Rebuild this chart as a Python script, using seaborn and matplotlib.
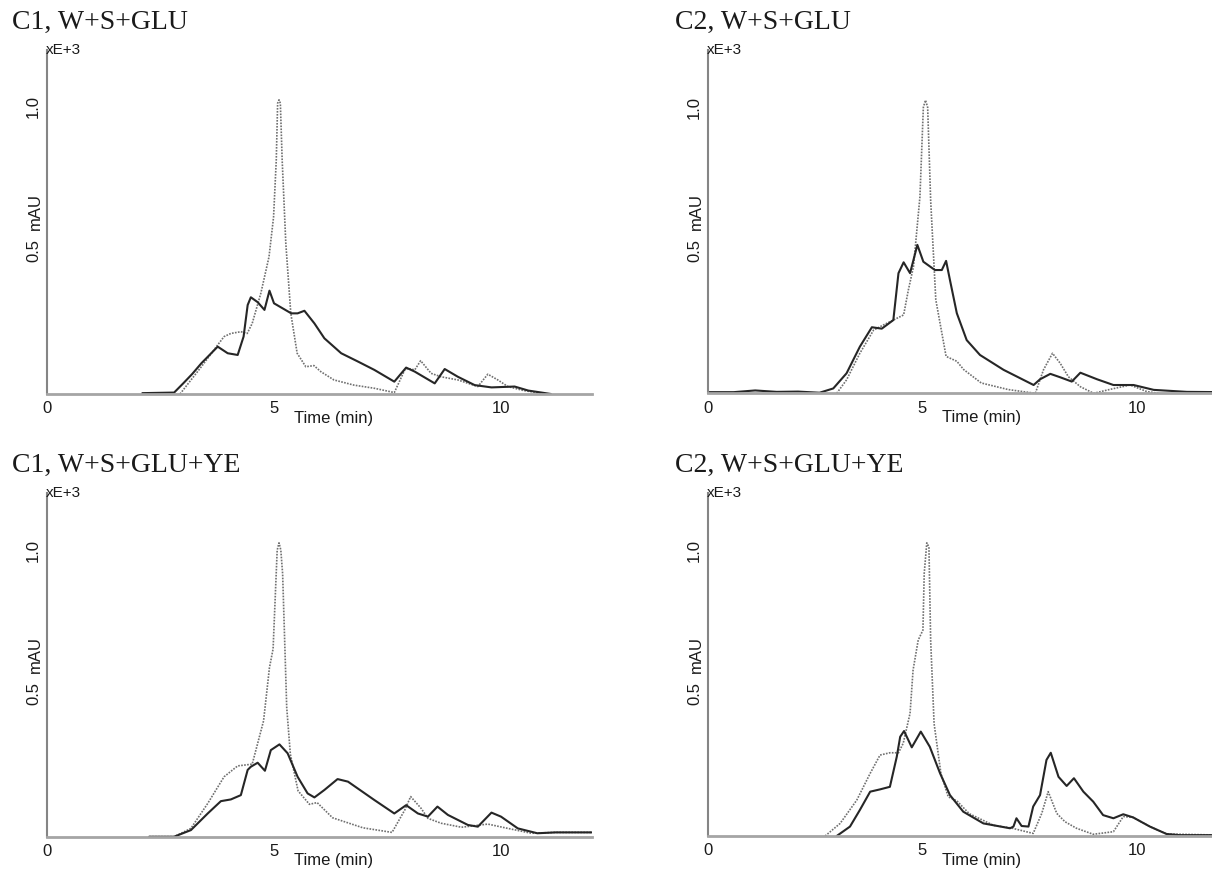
#%% Chromatograms C1 / C2, W+S+GLU with and without YE
import pandas as pd
import seaborn as sns
import matplotlib.pyplot as plt
from matplotlib.ticker import MultipleLocator

#%% Data (time in min, signal in mAU x 1000)

# C1, W+S+GLU
c1_glu_solid_t = [2.1, 2.8, 3.0, 3.2, 3.4, 3.76, 3.98, 4.2, 4.33, 4.42, 4.49, 4.64, 4.79, 4.9, 5.0,
                  5.38, 5.52, 5.67, 5.89, 6.11, 6.48, 6.85, 7.21, 7.65, 7.91, 8.1, 8.54, 8.76, 9.05,
                  9.42, 9.79, 10.3, 10.6, 11.1]
c1_glu_solid_v = [0.003, 0.005, 0.037, 0.07, 0.107, 0.165, 0.142, 0.136, 0.2, 0.31, 0.337, 0.32,
                  0.293, 0.36, 0.316, 0.281, 0.281, 0.29, 0.246, 0.194, 0.142, 0.113, 0.084, 0.043,
                  0.092, 0.078, 0.037, 0.087, 0.06, 0.031, 0.023, 0.026, 0.012, 0.0]
c1_glu_dot_t = [2.93, 3.4, 3.76, 3.9, 4.05, 4.27, 4.41, 4.52, 4.71, 4.89, 4.99, 5.05, 5.08, 5.11,
                5.14, 5.18, 5.26, 5.37, 5.51, 5.7, 5.88, 6.03, 6.32, 6.76, 7.21, 7.65, 7.88, 7.95,
                8.1, 8.23, 8.46, 8.68, 9.05, 9.49, 9.71, 9.93, 10.15, 10.5, 11.0]
c1_glu_dot_v = [0.0, 0.095, 0.171, 0.2, 0.211, 0.217, 0.211, 0.246, 0.351, 0.478, 0.616, 0.815,
                1.013, 1.025, 1.013, 0.815, 0.525, 0.281, 0.142, 0.095, 0.099, 0.078, 0.049, 0.031,
                0.02, 0.005, 0.084, 0.089, 0.084, 0.116, 0.072, 0.06, 0.049, 0.026, 0.069, 0.049,
                0.026, 0.012, 0.0]

# C2, W+S+GLU
c2_glu_solid_t = [0.0, 0.6, 1.1, 1.6, 2.1, 2.6, 2.92, 3.23, 3.54, 3.82, 4.05, 4.32, 4.44, 4.56,
                  4.71, 4.88, 5.02, 5.29, 5.45, 5.55, 5.64, 5.8, 6.03, 6.34, 6.89, 7.59, 7.74, 7.98,
                  8.21, 8.48, 8.68, 9.07, 9.45, 9.92, 10.39, 11.16, 12.0]
c2_glu_solid_v = [0.004, 0.004, 0.01, 0.005, 0.006, 0.002, 0.017, 0.07, 0.163, 0.231, 0.226,
                  0.256, 0.42, 0.458, 0.42, 0.519, 0.46, 0.431, 0.431, 0.463, 0.396, 0.28, 0.186,
                  0.134, 0.082, 0.029, 0.049, 0.068, 0.056, 0.041, 0.072, 0.049, 0.029, 0.029,
                  0.012, 0.005, 0.004]
c2_glu_dot_t = [3.0, 3.23, 3.54, 3.86, 4.09, 4.32, 4.56, 4.67, 4.79, 4.94, 5.02, 5.07, 5.12, 5.19,
                5.31, 5.55, 5.8, 5.96, 6.37, 7.0, 7.63, 7.82, 8.03, 8.21, 8.4, 8.68, 8.99, 9.38,
                9.84, 10.23, 10.5]
c2_glu_dot_v = [0.0, 0.047, 0.14, 0.221, 0.239, 0.256, 0.274, 0.361, 0.443, 0.687, 1.0, 1.025,
                1.0, 0.675, 0.327, 0.129, 0.112, 0.083, 0.036, 0.013, 0.0, 0.082, 0.14, 0.105,
                0.058, 0.023, 0.0, 0.014, 0.029, 0.006, 0.0]

# C1, W+S+GLU+YE
c1_ye_solid_t = [2.25, 2.8, 3.17, 3.54, 3.83, 4.05, 4.27, 4.42, 4.49, 4.64, 4.8, 4.93, 5.12, 5.3,
                 5.52, 5.74, 5.89, 6.11, 6.4, 6.63, 7.21, 7.65, 7.91, 8.17, 8.39, 8.6, 8.83, 9.27,
                 9.49, 9.79, 10.0, 10.37, 10.8, 11.2, 12.0]
c1_ye_solid_v = [0.0, 0.0, 0.023, 0.081, 0.124, 0.13, 0.145, 0.233, 0.244, 0.258, 0.23, 0.302,
                 0.322, 0.291, 0.209, 0.151, 0.137, 0.163, 0.201, 0.192, 0.128, 0.081, 0.11, 0.081,
                 0.07, 0.105, 0.076, 0.041, 0.035, 0.084, 0.07, 0.029, 0.012, 0.015, 0.015]
c1_ye_dot_t = [2.25, 2.8, 3.17, 3.54, 3.9, 4.2, 4.52, 4.77, 4.9, 4.98, 5.07, 5.11, 5.15, 5.19,
               5.28, 5.36, 5.53, 5.78, 5.95, 6.29, 6.96, 7.6, 7.88, 8.01, 8.24, 8.39, 8.68, 9.13,
               9.71, 10.15, 10.67, 11.2, 12.0]
c1_ye_dot_v = [0.0, 0.0, 0.029, 0.116, 0.209, 0.247, 0.253, 0.404, 0.59, 0.655, 0.999, 1.025,
               1.0, 0.917, 0.451, 0.288, 0.16, 0.113, 0.119, 0.066, 0.031, 0.015, 0.093, 0.14,
               0.099, 0.064, 0.047, 0.033, 0.044, 0.029, 0.012, 0.015, 0.015]

# C2, W+S+GLU+YE
c2_ye_solid_t = [3.0, 3.31, 3.54, 3.78, 4.01, 4.24, 4.4, 4.48, 4.57, 4.75, 4.96, 5.17, 5.41, 5.64,
                 5.95, 6.42, 7.04, 7.12, 7.19, 7.31, 7.47, 7.58, 7.74, 7.89, 7.99, 8.17, 8.36,
                 8.53, 8.75, 8.98, 9.21, 9.45, 9.68, 9.91, 10.3, 10.69, 11.0, 12.0]
c2_ye_solid_v = [0.0, 0.033, 0.091, 0.155, 0.163, 0.172, 0.277, 0.347, 0.367, 0.31, 0.365, 0.312,
                 0.219, 0.143, 0.085, 0.044, 0.027, 0.033, 0.062, 0.035, 0.033, 0.103, 0.143,
                 0.266, 0.291, 0.207, 0.175, 0.202, 0.155, 0.12, 0.073, 0.062, 0.076, 0.065,
                 0.033, 0.007, 0.003, 0.003]
c2_ye_dot_t = [2.73, 3.08, 3.47, 3.78, 4.01, 4.24, 4.44, 4.55, 4.71, 4.78, 4.9, 5.01, 5.04, 5.1,
               5.15, 5.19, 5.27, 5.43, 5.6, 5.8, 6.09, 6.66, 7.07, 7.58, 7.78, 7.93, 8.13, 8.32,
               8.59, 8.98, 9.45, 9.68, 9.91, 10.3, 10.69, 12.0]
c2_ye_dot_v = [0.0, 0.044, 0.126, 0.219, 0.283, 0.291, 0.291, 0.324, 0.429, 0.58, 0.685, 0.72,
               0.918, 1.025, 1.01, 0.685, 0.393, 0.218, 0.137, 0.123, 0.078, 0.037, 0.028, 0.009,
               0.079, 0.155, 0.079, 0.05, 0.027, 0.006, 0.015, 0.068, 0.065, 0.033, 0.007, 0.003]

titles = ['C1, W+S+GLU', 'C2, W+S+GLU', 'C1, W+S+GLU+YE', 'C2, W+S+GLU+YE']

#%% Style
sns.set_style('white')
plt.rcParams['font.family'] = ['Liberation Sans', 'DejaVu Sans']

fig = plt.figure(figsize=(12.12, 8.71), dpi=100)

W, H = 1212, 871
# axes rectangles in pixels: left, baseline, px per min, px per 1.0
rects = [(47, 394, 45.4, 287), (708, 393.3, 42.9, 286),
         (47, 836.7, 45.4, 286.7), (708, 836, 42.9, 286)]
title_pos = [(12, 22), (675, 22), (12, 465), (675, 465)]

panels = [
    (c1_glu_solid_t, c1_glu_solid_v, c1_glu_dot_t, c1_glu_dot_v),
    (c2_glu_solid_t, c2_glu_solid_v, c2_glu_dot_t, c2_glu_dot_v),
    (c1_ye_solid_t, c1_ye_solid_v, c1_ye_dot_t, c1_ye_dot_v),
    (c2_ye_solid_t, c2_ye_solid_v, c2_ye_dot_t, c2_ye_dot_v),
]

for i, (st, sv, dt, dv) in enumerate(panels):
    left, base, pxmin, pxunit = rects[i]
    ax = fig.add_axes([left / W, (H - base) / H, 12 * pxmin / W, 1.2 * pxunit / H])

    dots = pd.DataFrame({'t': dt, 'v': dv})
    solid = pd.DataFrame({'t': st, 'v': sv})
    sns.lineplot(data=dots, x='t', y='v', ax=ax, estimator=None, sort=False,
                 color='#707070', lw=1.2, linestyle=(0, (1, 0.8)))
    sns.lineplot(data=solid, x='t', y='v', ax=ax, estimator=None, sort=False,
                 color='#262626', lw=1.5)

    ax.set_xlim(0, 12)
    ax.set_ylim(0, 1.2)
    ax.set_xlabel('')
    ax.set_ylabel('')
    sns.despine(ax=ax)
    ax.spines['left'].set_color('#858585')
    ax.spines['left'].set_linewidth(1.5)
    ax.spines['bottom'].set_color('#a5a5a5')
    ax.spines['bottom'].set_linewidth(2)

    ax.set_xticks([0, 5, 10])
    ax.set_xticklabels(['0', '5', '10'])
    ax.xaxis.set_minor_locator(MultipleLocator(1))
    ax.set_yticks([0.5, 1.0])
    ax.set_yticklabels(['0.5', '1.0'], rotation=90, va='center')
    ax.yaxis.set_minor_locator(MultipleLocator(0.1))
    ax.tick_params(which='both', direction='inout', length=2.5, width=1, color='#3344ee',
                   labelsize=12, labelcolor='#1a1a1a')
    ax.tick_params(axis='x', which='major', pad=4)
    ax.tick_params(axis='y', which='major', pad=3)

    ax.text(-0.002, 1.0, 'xE+3', transform=ax.transAxes, ha='left', va='center',
            fontsize=11, color='#1a1a1a')
    ax.text(-0.022, 0.53, 'mAU', transform=ax.transAxes, rotation=90, ha='center',
            va='center', fontsize=12, color='#1a1a1a')
    ax.text(5.45, -0.07, 'Time (min)', transform=ax.get_xaxis_transform(), ha='left',
            va='center', fontsize=12, color='#1a1a1a')

    tx, ty = title_pos[i]
    fig.text(tx / W, 1 - ty / H, titles[i], family=['Liberation Serif', 'DejaVu Serif'],
             fontsize=20, color='#1a1a1a', ha='left', va='center')

plt.savefig('out.png', dpi=100)
